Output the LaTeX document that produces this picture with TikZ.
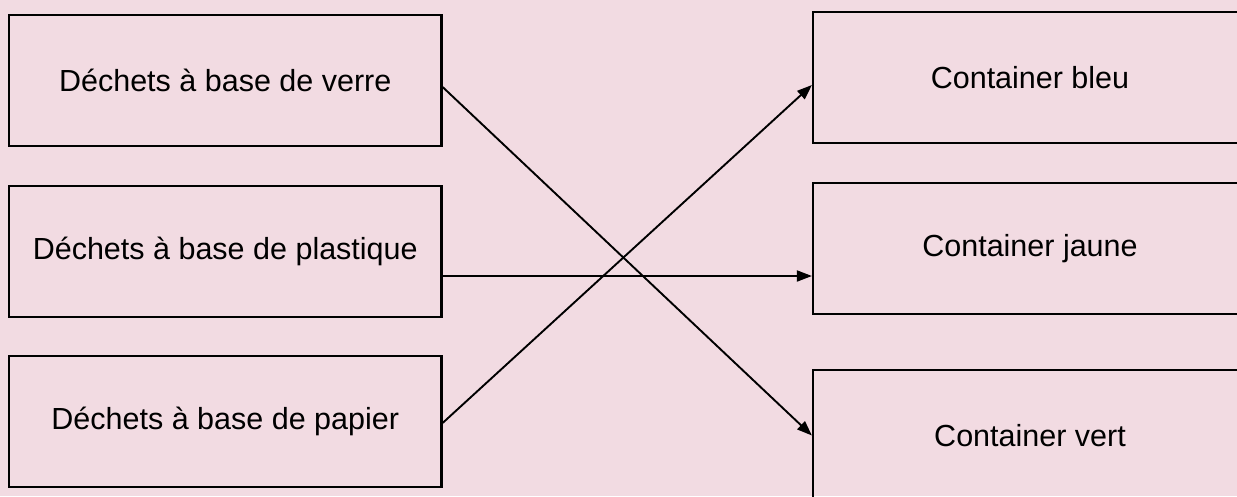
\documentclass[tikz,border=0pt]{standalone}
\usepackage{fontspec}
\setmainfont{Liberation Sans}
\usetikzlibrary{arrows.meta}
\definecolor{bgpink}{RGB}{242,219,226}
\tikzset{
  box/.style={draw=black, line width=2.2pt, inner sep=0pt, minimum height=131pt, font=\fontsize{30.5}{35}\selectfont},
  lbox/.style={box, minimum width=432.5pt},
  rbox/.style={box, minimum width=434pt},
  arr/.style={line width=1.9pt, -{Triangle[length=15pt,width=11pt]}}
}
\begin{document}
\begin{tikzpicture}[x=1pt,y=1pt]
\fill[bgpink] (0,0) rectangle (1237,-496);
\useasboundingbox (0,0) rectangle (1237,-496);
\clip (0,0) rectangle (1237,-496);
\node[lbox] (verre) at (225.25,-80.5) {Déchets à base de verre};
\node[lbox] (plast) at (225.25,-251.5) {Déchets à base de plastique};
\node[lbox] (papier) at (225.25,-421.5) {Déchets à base de papier};
\node[rbox] (bleu) at (1030,-77.5) {Container bleu};
\node[rbox] (jaune) at (1030,-248.5) {Container jaune};
\node[rbox] (vert) at (1030,-435.5) {Container vert};
\draw[arr] ([yshift=-6.5pt]verre.east) -- (vert.west);
\draw[arr] ([yshift=-24.5pt]plast.east) coordinate (ps) -- (ps -| jaune.west);
\draw[arr] ([yshift=-1.5pt]papier.east) -- ([yshift=-7.5pt]bleu.west);
\end{tikzpicture}
\end{document}
